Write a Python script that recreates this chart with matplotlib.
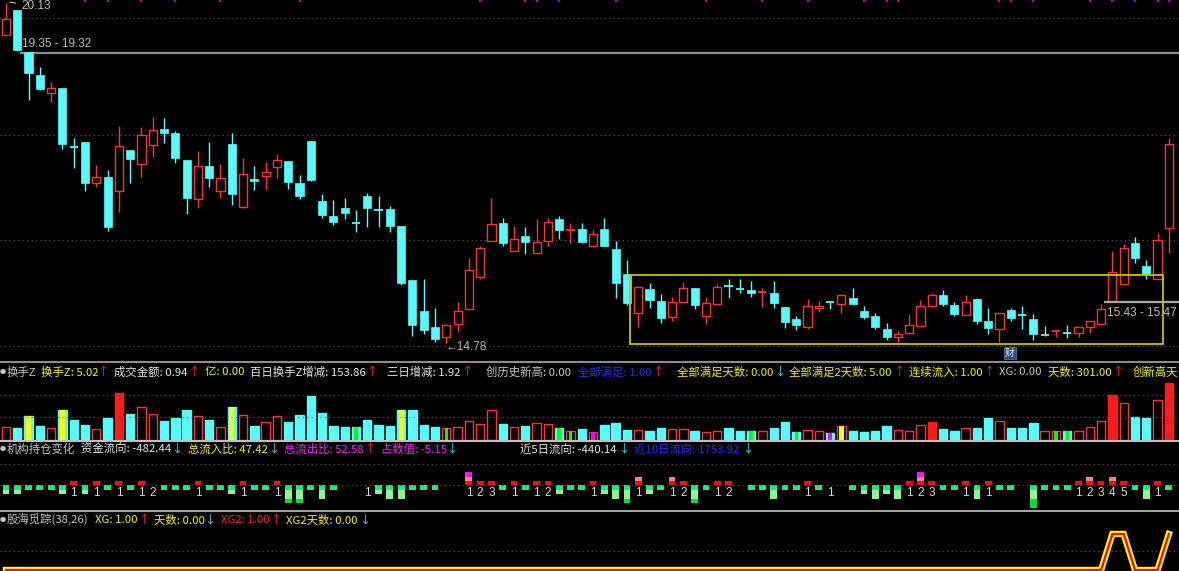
import numpy as np
import matplotlib.pyplot as plt
from matplotlib.patches import Rectangle
from matplotlib.lines import Line2D

plt.rcParams['font.family'] = ['Noto Sans CJK SC', 'DejaVu Sans']

# daily candles
opens = [19.63, 20.02, 19.36, 19.00, 18.71, 18.79, 17.87, 17.94, 17.30, 17.39,
         17.17, 17.82, 17.60, 17.90, 18.15, 18.08, 17.66, 17.05, 17.57, 17.17,
         17.91, 16.92, 17.36, 17.41, 17.55, 17.64, 17.30, 17.96, 17.01, 16.78,
         16.90, 16.68, 17.09, 16.87, 16.89, 16.62, 15.77, 15.28, 15.03, 14.87,
         15.08, 15.31, 15.82, 16.38, 16.67, 16.23, 16.46, 16.19, 16.38, 16.73,
         16.56, 16.57, 16.31, 16.57, 16.26, 15.87, 15.25, 15.63, 15.44, 15.19,
         15.43, 15.64, 15.20, 15.39, 15.68, 15.64, 15.61, 15.57, 15.57, 15.35,
         15.16, 15.03, 15.33, 15.43, 15.39, 15.49, 15.28, 15.20, 15.00, 14.87,
         14.94, 15.05, 15.36, 15.53, 15.38, 15.22, 15.47, 15.13, 15.00, 15.30,
         15.22, 15.16, 14.90, 14.97, 14.95, 14.94, 15.03, 15.08, 15.44, 15.71,
         16.35, 15.99, 15.79, 16.59]
highs = [20.13, 20.02, 19.36, 19.12, 18.89, 18.79, 18.01, 17.94, 17.58, 17.50,
         18.20, 17.82, 18.18, 18.34, 18.32, 18.12, 17.66, 17.80, 17.94, 17.60,
         18.08, 17.69, 17.57, 17.63, 17.75, 17.64, 17.42, 17.96, 17.12, 17.03,
         17.06, 16.87, 17.14, 17.09, 16.93, 16.62, 15.77, 15.79, 15.33, 15.08,
         15.43, 16.12, 16.31, 17.06, 16.75, 16.62, 16.61, 16.73, 16.75, 16.78,
         16.67, 16.67, 16.56, 16.75, 16.38, 16.09, 15.68, 15.72, 15.55, 15.50,
         15.74, 15.64, 15.50, 15.71, 15.79, 15.79, 15.76, 15.64, 15.76, 15.35,
         15.20, 15.47, 15.44, 15.44, 15.55, 15.64, 15.36, 15.25, 15.09, 14.97,
         15.24, 15.46, 15.57, 15.61, 15.43, 15.53, 15.47, 15.33, 15.25, 15.33,
         15.36, 15.24, 15.05, 14.99, 15.06, 15.03, 15.13, 15.39, 16.23, 16.34,
         16.45, 16.09, 16.51, 18.01]
lows = [19.61, 19.37, 18.60, 18.76, 18.57, 17.83, 17.53, 17.17, 17.23, 16.54,
        16.84, 17.30, 17.39, 17.71, 17.93, 17.61, 16.81, 16.90, 17.23, 17.06,
        16.95, 16.90, 17.19, 17.19, 17.38, 17.20, 17.04, 17.33, 16.75, 16.64,
        16.73, 16.53, 16.61, 16.61, 16.53, 15.69, 14.89, 14.92, 14.80, 14.78,
        14.95, 15.31, 15.79, 16.38, 16.31, 16.23, 16.18, 16.19, 16.31, 16.42,
        16.35, 16.35, 16.29, 16.31, 15.49, 15.38, 15.03, 15.33, 15.09, 15.13,
        15.43, 15.31, 15.08, 15.39, 15.49, 15.57, 15.50, 15.35, 15.33, 15.02,
        14.98, 15.00, 15.27, 15.31, 15.25, 15.39, 15.16, 15.00, 14.83, 14.79,
        14.94, 15.05, 15.36, 15.36, 15.20, 15.22, 15.08, 14.92, 14.79, 15.13,
        15.00, 14.83, 14.89, 14.87, 14.86, 14.87, 14.94, 15.08, 15.44, 15.71,
        16.04, 15.79, 15.79, 16.19]
closes = [19.88, 19.39, 19.03, 18.78, 18.79, 17.91, 17.86, 17.30, 17.39, 16.60,
          17.88, 17.68, 18.05, 18.13, 18.08, 17.69, 17.06, 17.57, 17.38, 17.38,
          17.12, 17.44, 17.33, 17.47, 17.66, 17.31, 17.09, 17.34, 16.79, 16.68,
          16.83, 16.67, 16.90, 16.86, 16.62, 15.72, 15.06, 14.98, 14.84, 15.06,
          15.28, 15.93, 16.27, 16.65, 16.35, 16.42, 16.37, 16.37, 16.68, 16.56,
          16.57, 16.37, 16.49, 16.31, 15.72, 15.41, 15.66, 15.46, 15.17, 15.43,
          15.64, 15.38, 15.41, 15.66, 15.67, 15.63, 15.57, 15.58, 15.41, 15.11,
          15.06, 15.36, 15.36, 15.42, 15.53, 15.39, 15.19, 15.03, 14.87, 14.92,
          15.06, 15.36, 15.53, 15.39, 15.24, 15.43, 15.13, 15.02, 15.25, 15.17,
          15.21, 14.92, 14.90, 14.98, 14.94, 15.03, 15.13, 15.31, 15.90, 16.27,
          16.12, 15.87, 16.40, 17.91]

# 换手Z panel
turnover = [1.12, 1.03, 2.11, 1.21, 1.03, 2.64, 1.79, 1.35, 0.99, 1.96,
            4.14, 2.29, 2.88, 2.29, 1.70, 1.91, 2.64, 2.11, 1.79, 1.17,
            2.88, 2.20, 1.21, 1.61, 2.11, 1.61, 2.17, 3.85, 2.38, 1.26,
            1.17, 1.17, 1.79, 1.35, 1.26, 2.64, 2.64, 1.35, 1.17, 1.08,
            1.17, 1.67, 1.43, 2.64, 1.43, 1.17, 1.26, 1.52, 1.43, 1.08,
            0.82, 0.99, 0.73, 1.35, 1.52, 0.91, 0.91, 0.82, 1.08, 0.99,
            0.99, 0.82, 0.73, 0.82, 1.08, 0.77, 0.77, 0.82, 1.08, 1.61,
            0.73, 0.91, 0.82, 0.59, 1.26, 0.82, 0.68, 0.77, 1.26, 0.91,
            0.82, 1.35, 1.61, 0.99, 0.82, 1.08, 1.08, 1.96, 1.67, 1.08,
            1.08, 1.52, 0.82, 0.82, 0.77, 0.82, 1.17, 1.67, 3.99, 3.28,
            2.05, 1.96, 3.55, 5.02]
vol_solid_red = [10, 82, 98, 103]
vol_yellow = [2, 5, 20, 35, 74]
vol_green = [31, 39, 49, 50, 66, 70, 93, 94]
vol_magenta = [52, 73]
turnover_lines = [2.05, 4.0]

# 机构持仓变化 panel
flow = [-9, -9, -5, -5, -5, -9, 4, -9, 4, -5,
        4, -5, 4, 0, -5, -5, -5, 4, -5, -5,
        -9, 4, -5, -5, 4, -18, -18, -5, -14, -5,
        0, 0, 0, -9, -14, -14, -5, -5, -5, 0,
        0, 12.7, 4, 4, -5, 4, -5, 4, 4, -9,
        -5, -5, 4, -9, -14, -18, 8.3, -9, -5, 8.3,
        4, -18, -5, 4, 4, 0, -5, -5, -14, -5,
        -5, 4, -5, 0, 0, -5, -9, -14, -9, -14,
        4, 12.7, 4, -5, -5, 4, -14, 4, -5, -5,
        0, -23, -5, -5, -5, 4, 8.3, 4, 8.3, 4,
        -5, -14, 4, -5]
streak_idx = [6, 8, 10, 12, 13, 17, 21, 24, 32, 41, 42, 43, 45, 47, 48, 52, 56,
              59, 60, 63, 64, 71, 73, 80, 81, 82, 85, 87, 95, 96, 97, 98, 99, 102]
streak_num = [1, 1, 1, 1, 2, 1, 1, 1, 1, 1, 2, 3, 1, 1, 2, 1, 1,
              1, 2, 1, 2, 1, 1, 1, 2, 3, 1, 1, 1, 2, 3, 4, 5, 1]

# 股海觅踪 panel
xg_line = [0] * 98 + [1, 1, 0, 0, 0, 1]

# price levels / annotations
grid_levels = [19.89, 18.05, 16.40, 14.73]
top_marks = [7, 9, 12, 15, 19, 26, 42, 46, 47, 49, 54, 62, 67, 71, 76, 78, 79,
             88, 89, 91, 96, 98, 100, 102, 103]
box_x = (55.27, 102.48)
box_price = (14.76, 15.85)

W, H = 1179, 571
fig = plt.figure(figsize=(W / 100, H / 100), dpi=100, facecolor='black')


def panel(top, bottom):
    ax = fig.add_axes([0, 1 - bottom / H, 1, (bottom - top) / H])
    ax.set_facecolor('black')
    ax.axis('off')
    ax.set_xlim(-0.53, 103.9)
    return ax


RED = '#ff3232'
CYAN = '#54fcfc'
DOT = (0, (1, 3))
NUMFONT = ['Liberation Sans', 'DejaVu Sans']

n = len(opens)
x = np.arange(n)
o, h, l, c = (np.array(a) for a in (opens, highs, lows, closes))

# ---------------- main candle panel ----------------
ax1 = panel(0, 362)
ax1.set_ylim(14.481, 20.177)
for g in grid_levels:
    ax1.axhline(g, color='#5c5c5c', lw=0.8, ls=DOT)

cols = np.where(c > o, RED, np.where(c < o, CYAN, '#c8c8c8'))
ax1.vlines(x, l, h, colors=cols, lw=1, zorder=2)
bw = 0.72
for i in range(n):
    if abs(c[i] - o[i]) < 0.015:
        ax1.hlines((o[i] + c[i]) / 2, i - bw / 2, i + bw / 2, colors=cols[i], lw=1.3, zorder=3)
    elif c[i] > o[i]:
        ax1.add_patch(Rectangle((i - bw / 2, o[i]), bw, c[i] - o[i], facecolor='black',
                                edgecolor=RED, lw=1, zorder=3))
    else:
        ax1.add_patch(Rectangle((i - bw / 2, c[i]), bw, o[i] - c[i], facecolor=CYAN,
                                edgecolor=CYAN, lw=0.5, zorder=3))

ax1.hlines(19.35, 1.24, 104, color='#8c8c8c', lw=1.6, zorder=1)
ax1.text(1.42, 19.48, '19.35 - 19.32', color='#bdbdbd', fontsize=8.5, family=NUMFONT, va='center')
ax1.hlines(15.43, 97.3, 104, color='#a8a8a8', lw=1.6, zorder=4)
ax1.text(97.5, 15.25, '15.43 - 15.47', color='#bdbdbd', fontsize=8.5, family=NUMFONT, va='center')
ax1.annotate('20.13', xy=(0.1, 20.15), xytext=(1.35, 20.08), color='#bdbdbd', fontsize=8.5,
             family=NUMFONT, va='center',
             arrowprops=dict(arrowstyle='-', color='#bdbdbd', lw=0.8))
ax1.text(38.9, 14.72, '←14.78', color='#b4b4b4', fontsize=8.5, family=NUMFONT, va='center')
ax1.add_patch(Rectangle((box_x[0], box_price[0]), box_x[1] - box_x[0], box_price[1] - box_price[0],
                        fill=False, edgecolor='#c4c400', lw=1.3, zorder=5))
ax1.text(88.9, 14.625, '财', color='#dfe8ff', fontsize=7, ha='center', va='center',
         bbox=dict(boxstyle='square,pad=0.12', fc='#2b4c7e', ec='#5a7ab0', lw=0.5))
ax1.scatter(top_marks, [20.16] * len(top_marks), marker='s', s=2.5, color='#c000c0', lw=0)

# ---------------- 换手Z ----------------
ax2 = panel(362, 441)
ax2.set_ylim(-0.088, 6.87)
for g in turnover_lines:
    ax2.axhline(g, color='#5c5c5c', lw=0.8, ls=DOT)
faces, edges = [], []
for i in range(n):
    if i in vol_solid_red:
        faces.append('#ff1a1a'); edges.append('#ff1a1a')
    elif c[i] >= o[i]:
        faces.append('black'); edges.append(RED)
    else:
        faces.append(CYAN); edges.append(CYAN)
tv = np.array(turnover)
ax2.bar(x, tv, 0.74, facecolor=faces, edgecolor=edges, lw=1)
ax2.bar(vol_yellow, tv[vol_yellow], 0.44, color='#ffff00', lw=0)
ax2.bar(vol_green, tv[vol_green], 0.3, color='#00ff00', lw=0)
ax2.bar(vol_magenta, tv[vol_magenta], 0.3, color='#ff00ff', lw=0)

# ---------------- 机构持仓变化 ----------------
ax3 = panel(441, 512)
ax3.set_ylim(-27, 44)
ax3.axhline(0, color='#5c5c5c', lw=0.8, ls=DOT)
ax3.axhline(21, color='#5c5c5c', lw=0.8, ls=DOT)
fv = np.array(flow, dtype=float)
sw = 0.6
ax3.bar(x, np.clip(fv, -5, 0), sw, color='#14ee7c', lw=0)
ax3.bar(x, np.clip(fv, -13.5, -5) + 5, sw, bottom=-5, color='#8ef58e', lw=0)
ax3.bar(x, np.minimum(fv, -13.5) + 13.5, sw, bottom=-13.5, color='#00dc3c', lw=0)
ax3.bar(x, np.clip(fv, 0, 4), sw, color='#ff0a0a', lw=0)
ax3.bar(x, np.clip(fv, 4, 8.3) - 4, sw, bottom=4, color='#ff8080', lw=0)
ax3.bar(x, np.maximum(fv, 8.3) - 8.3, sw, bottom=8.3, color='#ff10ff', lw=0)
for i, k in zip(streak_idx, streak_num):
    ax3.text(i, -8.5, str(k), color='#d8d8d8', fontsize=8.5, family=NUMFONT, ha='center', va='center')

# ---------------- 股海觅踪 ----------------
ax4 = panel(512, 571)
ax4.set_ylim(-0.028, 1.61)
ax4.axhline(0.53, color='#5c5c5c', lw=0.8, ls=DOT)
ax4.plot(x, xg_line, color='#ffff00', lw=4.6, solid_joinstyle='miter', clip_on=True)
ax4.plot(x, xg_line, color='#ff0000', lw=1.6, solid_joinstyle='miter', clip_on=True)

# separators
for yy, col in [(362, '#8c8c8c'), (441, '#c0c0c0'), (511, '#a0a0a0')]:
    fig.add_artist(Line2D([0, 1], [1 - yy / H] * 2, color=col, lw=1.5, transform=fig.transFigure))

# header texts
GRAY, WHITE, YEL, BLUE, MAG, ARED, ACYAN = ('#c4c4c4', '#e6e6e6', '#f2f200', '#2a2aff',
                                            '#ee22ee', '#ff2020', '#40e0f0')
headers = [
    (372, [('换手Z', 7, GRAY), ('换手Z: 5.02', 41, YEL), ('成交金额: 0.94', 114, WHITE),
           ('亿: 0.00', 205, YEL), ('百日换手Z增减: 153.86', 250, WHITE), ('三日增减: 1.92', 387, WHITE),
           ('创历史新高: 0.00', 486, GRAY), ('全部满足: 1.00', 578, BLUE), ('全部满足天数: 0.00', 677, YEL),
           ('全部满足2天数: 5.00', 789, YEL), ('连续流入: 1.00', 909, YEL), ('XG: 0.00', 999, GRAY),
           ('天数: 301.00', 1048, YEL), ('创新高天', 1133, YEL)],
     [(103, '↑'), (194, '↑'), (372, '↑'), (467, '↑'), (658, '↑'), (780, '↓'), (899, '↑'),
      (989, '↑'), (1118, '↑')]),
    (449, [('机构持仓变化', 7, GRAY), ('资金流向: -482.44', 81, WHITE), ('总流入比: 47.42', 188, YEL),
           ('总流出比: 52.58', 284, MAG), ('占数值: -5.15', 381, MAG), ('近5日流向: -440.14', 520, WHITE),
           ('近10日流向: 1753.92', 634, BLUE)],
     [(177, '↓'), (274, '↓'), (370, '↑'), (452, '↓'), (624, '↓'), (748, '↓')]),
    (520, [('股海觅踪(38,26)', 7, GRAY), ('XG: 1.00', 95, YEL), ('天数: 0.00', 154, YEL),
           ('XG2: 1.00', 221, '#ff2020'), ('XG2天数: 0.00', 286, YEL)],
     [(144, '↑'), (210, '↓'), (276, '↑'), (365, '↓')]),
]
for yy, items, arrows in headers:
    fy = 1 - yy / H
    fig.text(2.5 / W, fy, '●', color='#c8c8c8', fontsize=4.5, ha='center', va='center')
    for s, xx, col in items:
        fig.text(xx / W, fy, s, color=col, fontsize=8.2, ha='left', va='center')
    for xx, a in arrows:
        fig.text(xx / W, fy, a, color=ARED if a == '↑' else ACYAN, fontsize=8.2,
                 ha='center', va='center')

fig.savefig('out.png', dpi=100, facecolor='black')
